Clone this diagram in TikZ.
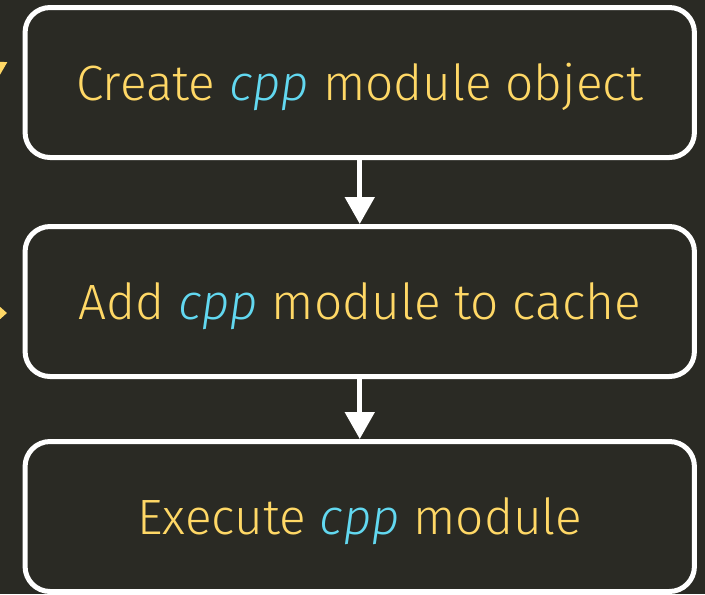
\documentclass[tikz,border=0pt]{standalone}
\usepackage{fontspec}
\setmainfont{Fira Sans}[UprightFont=* Light, ItalicFont=* Light Italic]
\usetikzlibrary{arrows.meta}

\definecolor{bgdark}{HTML}{2A2A24}
\definecolor{txtyellow}{HTML}{FFD866}
\definecolor{cppblue}{HTML}{62D8F0}
\newcommand{\cppword}{\textcolor{cppblue}{\textit{cpp}}}

\begin{document}
\begin{tikzpicture}[x=0.75pt,y=0.75pt,yscale=-1,xscale=1,
  stage/.style={draw=white, line width=3.75pt, rounded corners=18.75pt,
    minimum width=502pt, minimum height=112.5pt, inner sep=0pt,
    text height=26.4pt, text depth=0pt,
    text=txtyellow, font=\fontsize{37.2}{44}\selectfont},
  flow/.style={draw=white, line width=3.75pt,
    -{Triangle[width=21.75pt,length=20.25pt]}},
  backflow/.style={draw=txtyellow, line width=3.75pt}]
%set diagram frame: 705 x 594
\useasboundingbox (0,0) rectangle (705,594);
\fill[bgdark] (0,0) rectangle (705,594);
\clip (0,0) rectangle (705,594);

% Rounded Rect
\node[stage] (create) at (359.75,82.5) {Create \cppword{} module object};
% Rounded Rect
\node[stage] (cache) at (359.75,301.5) {Add \cppword{} module to cache};
% Rounded Rect
\node[stage] (exec) at (359.75,516.5) {Execute \cppword{} module};

%Straight Lines
\draw[flow] (create.south) -- (cache.north);
\draw[flow] (cache.south) -- (exec.north);

%Incoming from the left
\coordinate (retryfrom) at (-40,88.3);
\coordinate (retryto) at (7.5,62);
\draw[backflow, -{Triangle[width=11.6pt,length=10.5pt]}] (retryfrom) -- (retryto);
\coordinate (storefrom) at (-40,313);
\coordinate (storeto) at (7,313);
\draw[backflow, -{Triangle[width=18pt,length=10.5pt]}] (storefrom) -- (storeto);

\end{tikzpicture}
\end{document}
